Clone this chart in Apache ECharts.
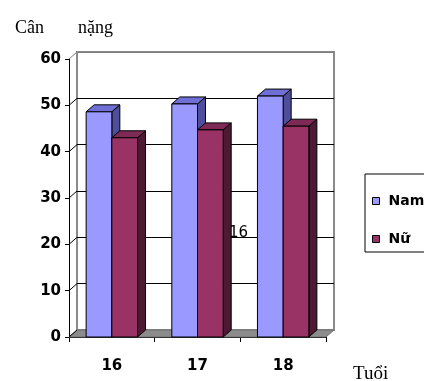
<!DOCTYPE html>
<html>
<head>
<meta charset="utf-8">
<script src="https://cdn.jsdelivr.net/npm/echarts@6/dist/echarts.min.js"></script>
<style>
  html, body { margin: 0; padding: 0; background: #fff; }
  #chart { width: 424px; height: 381px; }
</style>
</head>
<body>
<div id="chart"></div>
<script>
// Ages on the horizontal axis
const categories = ['16', '17', '18'];
// Average weight (kg) per age, boys and girls
const namValues = [48.6, 50.3, 52.0];
const nuValues = [43.0, 44.7, 45.5];
// Weight axis ticks
const yTicks = [0, 10, 20, 30, 40, 50, 60];

const seriesNames = ['Nam', 'Nữ'];

// Pseudo-3D depth offset (pixels)
const DX = 8;
const DY = 7;
// Front plot rectangle
const plot = { left: 69, top: 59, width: 257, height: 278 };

const faces = {
  Nam: { front: '#9999FF', top: '#6F6FD6', side: '#4E4E9C' },
  'Nữ': { front: '#993366', top: '#7E2A56', side: '#4C1A33' }
};

function barRenderer(name, side) {
  const c = faces[name];
  return function (params, api) {
    const i = api.value(0);
    const v = api.value(1);
    const top = api.coord([i, v]);
    const base = api.coord([i, 0]);
    const catW = api.size([1, 0])[0];
    const w = catW * 0.3;
    const x0 = side < 0 ? top[0] - w : top[0];
    const x1 = x0 + w;
    const ty = top[1];
    const by = base[1];
    const stroke = { stroke: '#000', lineWidth: 1 };
    return {
      type: 'group',
      children: [
        {
          type: 'polygon',
          shape: { points: [[x1, ty], [x1 + DX, ty - DY], [x1 + DX, by - DY], [x1, by]] },
          style: Object.assign({ fill: c.side }, stroke)
        },
        {
          type: 'polygon',
          shape: { points: [[x0, ty], [x1, ty], [x1 + DX, ty - DY], [x0 + DX, ty - DY]] },
          style: Object.assign({ fill: c.top }, stroke)
        },
        {
          type: 'rect',
          shape: { x: x0, y: ty, width: w, height: by - ty },
          style: Object.assign({ fill: c.front }, stroke)
        }
      ]
    };
  };
}

// Floor and side-wall lines of the 3D box
function wallRenderer(params, api) {
  const cs = params.coordSys;
  const children = [];
  const yb = api.coord([0, yTicks[0]])[1];
  children.push({
    type: 'polygon',
    shape: { points: [[cs.x, yb], [cs.x + cs.width, yb], [cs.x + cs.width + DX, yb - DY], [cs.x + DX, yb - DY]] },
    style: { fill: '#8C8C8C', stroke: '#6E6E6E', lineWidth: 1 }
  });
  yTicks.forEach(function (t) {
    const y = api.coord([0, t])[1];
    children.push({
      type: 'line',
      shape: { x1: cs.x, y1: y, x2: cs.x + DX, y2: y - DY },
      style: { stroke: t === yTicks[yTicks.length - 1] ? '#808080' : '#000', lineWidth: 1 }
    });
  });
  return { type: 'group', children: children };
}

const boldLabel = { fontFamily: 'DejaVu Sans', fontWeight: 'bold', fontSize: 15, color: '#000' };

const chart = echarts.init(document.getElementById('chart'), null, { renderer: 'canvas' });

chart.setOption({
  animation: false,
  backgroundColor: '#fff',
  grid: [
    { left: plot.left, top: plot.top, width: plot.width, height: plot.height },
    {
      left: plot.left + DX, top: plot.top - DY, width: plot.width, height: plot.height,
      show: true, borderColor: '#8A8A8A', borderWidth: 2, backgroundColor: 'transparent'
    }
  ],
  xAxis: [
    {
      type: 'category', gridIndex: 0, data: categories,
      axisLine: { lineStyle: { color: '#000', width: 1 } },
      axisTick: { show: true, length: 5, lineStyle: { color: '#000' } },
      axisLabel: Object.assign({ margin: 22 }, boldLabel),
      splitLine: { show: false }
    },
    { type: 'category', gridIndex: 1, data: categories, show: false }
  ],
  yAxis: [
    {
      type: 'value', gridIndex: 0,
      min: yTicks[0], max: yTicks[yTicks.length - 1], interval: yTicks[1] - yTicks[0],
      axisLine: { show: true, lineStyle: { color: '#000', width: 1 } },
      axisTick: { show: true, length: 4, lineStyle: { color: '#000' } },
      axisLabel: Object.assign({ margin: 8 }, boldLabel),
      splitLine: { show: false }
    },
    {
      type: 'value', gridIndex: 1,
      min: yTicks[0], max: yTicks[yTicks.length - 1], interval: yTicks[1] - yTicks[0],
      axisLine: { show: false }, axisTick: { show: false }, axisLabel: { show: false },
      splitLine: {
        show: true,
        lineStyle: { color: ['#808080', '#000', '#000', '#000', '#000', '#000', '#808080'], width: 1 }
      }
    }
  ],
  legend: {
    data: seriesNames,
    orient: 'vertical',
    left: 365, top: 174,
    padding: [20, 12, 6, 7],
    itemGap: 24,
    itemWidth: 7, itemHeight: 7,
    icon: 'rect',
    borderColor: '#000', borderWidth: 1,
    itemStyle: { borderColor: '#000', borderWidth: 1 },
    textStyle: { fontFamily: 'DejaVu Sans', fontWeight: 'bold', fontSize: 14, color: '#000', lineHeight: 14, padding: [0, 0, 0, 4] }
  },
  graphic: [
    { type: 'text', left: 15, top: 19, style: { text: 'Cân', font: '18px "Liberation Serif"', fill: '#000' } },
    { type: 'text', left: 78, top: 19, style: { text: 'nặng', font: '18px "Liberation Serif"', fill: '#000' } },
    { type: 'text', left: 353, top: 365, style: { text: 'Tuổi', font: '19px "Liberation Serif"', fill: '#000' } },
    { type: 'text', left: 229, top: 226, z: 0, style: { text: '16', font: '15px "DejaVu Sans"', fill: '#000' } }
  ],
  series: [
    {
      name: 'walls', type: 'custom', xAxisIndex: 0, yAxisIndex: 0, z: 1,
      silent: true, data: [[0, 0]], renderItem: wallRenderer
    },
    {
      name: 'Nam', type: 'custom', xAxisIndex: 0, yAxisIndex: 0, z: 3,
      itemStyle: { color: faces.Nam.front },
      encode: { x: 0, y: 1 },
      data: namValues.map(function (v, i) { return [i, v]; }),
      renderItem: barRenderer('Nam', -1)
    },
    {
      name: 'Nữ', type: 'custom', xAxisIndex: 0, yAxisIndex: 0, z: 4,
      itemStyle: { color: faces['Nữ'].front },
      encode: { x: 0, y: 1 },
      data: nuValues.map(function (v, i) { return [i, v]; }),
      renderItem: barRenderer('Nữ', 1)
    }
  ]
});
</script>
</body>
</html>
